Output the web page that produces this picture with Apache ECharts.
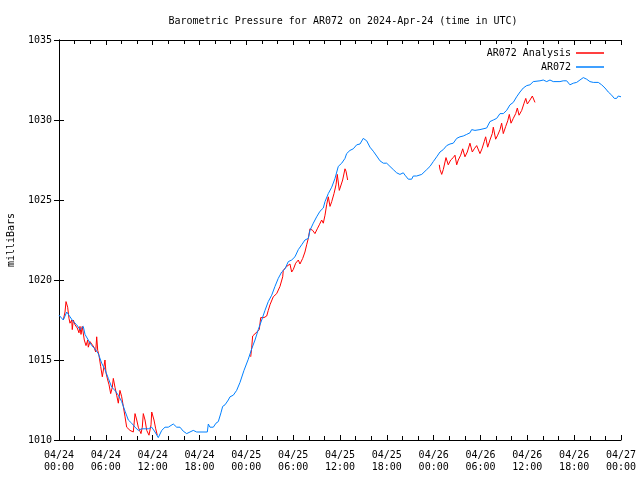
<!DOCTYPE html>
<html>
<head>
<meta charset="utf-8">
<script src="https://cdn.jsdelivr.net/npm/echarts@6/dist/echarts.min.js"></script>
<style>html,body{margin:0;padding:0;background:#fff;}#c{width:640px;height:480px;}</style>
</head>
<body>
<div id="c"></div>
<script>
// Observed station pressure (hours since 2024-04-24 00:00 UTC, mb)
const obsHours = [0,0.55,0.99,1.41,1.83,2.27,2.69,3.11,3.33,3.75,4.19,4.61,5.03,5.47,5.89,6.32,6.75,7.17,7.60,8.03,8.46,8.88,9.31,9.74,10.16,10.59,11.02,11.44,11.88,12.30,12.72,13.16,13.58,14.00,14.64,15.08,15.50,15.92,16.36,16.78,17.20,17.64,18.06,19.0,19.13,19.34,19.77,20.11,20.41,20.63,20.75,20.97,21.27,21.69,21.91,22.33,22.76,23.19,23.7,24.25,24.69,25.11,25.53,25.97,26.39,26.81,27.25,27.67,28.09,28.53,28.95,29.38,29.81,30.23,30.66,31.09,31.51,31.94,32.15,32.58,33.01,33.44,33.86,34.08,34.50,34.94,35.36,35.78,36.22,36.64,36.85,37.28,37.70,38.14,38.56,38.98,39.42,39.84,40.26,40.70,41.12,41.55,41.98,42.40,42.83,43.26,43.68,44.11,44.33,44.75,45.18,45.39,45.82,46.47,47.11,47.53,47.95,48.39,48.81,49.23,49.67,50.09,50.51,50.95,51.37,51.79,52.23,52.65,52.87,53.29,53.93,54.79,55.21,55.64,56.07,56.50,56.92,57.35,57.78,58.20,58.63,59.06,59.48,59.92,60.34,60.76,61.62,62.04,62.48,62.90,63.32,64.18,64.60,65.04,65.46,65.89,66.32,66.74,67.17,67.60,68.02,68.45,69.09,69.31,69.52,69.95,70.37,70.81,71.14,71.44,71.65,72.0];
const obsValues = [1017.8,1017.5,1018.0,1017.7,1017.4,1017.2,1016.9,1017.1,1016.6,1016.25,1015.9,1015.7,1015.4,1014.8,1014.4,1013.85,1013.3,1013.1,1012.8,1012.4,1011.8,1011.25,1011.05,1010.8,1010.6,1010.7,1010.7,1010.7,1010.8,1010.5,1010.15,1010.6,1010.8,1010.8,1011.0,1010.8,1010.8,1010.55,1010.4,1010.5,1010.6,1010.5,1010.5,1010.5,1011.0,1010.8,1010.8,1011.05,1011.15,1011.05,1011.7,1012.1,1012.2,1012.5,1012.7,1012.8,1013.1,1013.6,1014.35,1015.05,1015.7,1016.25,1016.9,1017.5,1018.1,1018.65,1019.05,1019.6,1020.1,1020.5,1020.7,1021.15,1021.25,1021.45,1021.9,1022.2,1022.5,1022.6,1023.1,1023.55,1023.95,1024.3,1024.5,1024.9,1025.4,1025.8,1026.35,1027.1,1027.3,1027.6,1027.9,1028.1,1028.2,1028.45,1028.5,1028.85,1028.7,1028.3,1028.05,1027.75,1027.45,1027.3,1027.3,1027.1,1026.9,1026.7,1026.6,1026.7,1026.55,1026.3,1026.3,1026.5,1026.5,1026.6,1026.9,1027.1,1027.4,1027.7,1028.0,1028.15,1028.4,1028.5,1028.55,1028.85,1028.95,1029.0,1029.1,1029.2,1029.4,1029.35,1029.4,1029.5,1029.9,1030.0,1030.1,1030.4,1030.4,1030.6,1030.95,1031.1,1031.45,1031.75,1032.0,1032.15,1032.2,1032.4,1032.45,1032.5,1032.4,1032.5,1032.4,1032.4,1032.45,1032.45,1032.2,1032.3,1032.35,1032.5,1032.65,1032.55,1032.4,1032.35,1032.35,1032.45,1032.2,1032.0,1031.75,1031.55,1031.35,1031.35,1031.5,1031.45];

// Analysis series (null = gap between analysis runs)
const anaHours = [0.55,0.77,0.90,1.11,1.28,1.41,1.63,1.70,1.83,2.05,2.34,2.56,2.69,2.82,2.98,3.24,3.46,3.68,3.75,3.97,4.19,4.48,4.70,4.83,4.96,5.12,5.34,5.55,5.76,5.89,6.02,6.24,6.41,6.62,6.83,6.96,7.17,7.39,7.60,7.81,8.03,8.24,8.46,8.67,9.10,9.52,9.74,9.96,10.16,10.50,10.67,10.80,11.02,11.24,11.53,11.79,11.88,12.17,12.39,12.59,
  18,
  24.56,24.69,24.81,25.24,25.46,25.66,25.84,26.26,26.61,26.81,27.03,27.45,27.89,28.31,28.66,28.73,29.17,29.59,29.81,30.01,30.32,30.66,30.87,31.22,31.51,31.73,31.94,32.15,32.50,32.79,33.09,33.35,33.65,33.86,34.08,34.29,34.50,34.72,34.94,35.23,35.49,35.65,35.91,36.13,36.34,36.64,36.77,36.98,
  42,
  48.72,48.81,49.03,49.23,49.58,49.87,50.18,50.51,50.73,50.95,51.15,51.46,51.72,52.01,52.31,52.65,52.95,53.20,53.51,53.72,53.93,54.19,54.48,54.66,54.92,55.21,55.51,55.64,55.94,56.20,56.50,56.71,56.92,57.23,57.49,57.69,57.91,58.20,58.51,58.72,58.94,59.28,59.58,59.80,60.00,60.34,60.64,60.76,60.98];
const anaValues = [1017.5,1018.0,1018.65,1018.3,1017.6,1017.3,1017.5,1016.9,1017.5,1017.2,1017.0,1016.7,1017.1,1016.6,1017.1,1016.25,1015.9,1016.25,1015.8,1016.15,1016.05,1015.8,1015.5,1016.45,1015.6,1015.3,1014.6,1013.95,1014.6,1015.0,1014.2,1013.75,1013.45,1012.9,1013.3,1013.85,1013.3,1012.8,1012.3,1013.1,1012.7,1012.1,1011.45,1010.8,1010.6,1010.5,1011.65,1011.25,1010.8,1010.4,1010.8,1011.65,1011.25,1010.6,1010.3,1010.95,1011.75,1011.25,1010.7,1010.3,
  null,
  1015.2,1015.8,1016.5,1016.7,1016.75,1016.9,1017.65,1017.65,1017.75,1018.1,1018.45,1018.95,1019.15,1019.6,1020.2,1020.6,1020.85,1021.0,1020.5,1020.65,1021.05,1021.25,1021.0,1021.35,1021.75,1022.2,1022.6,1023.2,1023.1,1022.9,1023.2,1023.45,1023.75,1023.55,1024.05,1024.7,1025.2,1024.6,1024.9,1025.4,1025.95,1026.6,1025.6,1025.7,1026.25,1026.95,1026.8,1026.25,
  null,
  1027.2,1026.9,1026.6,1026.9,1027.65,1027.2,1027.5,1027.65,1027.8,1027.2,1027.5,1027.8,1028.2,1027.7,1028.0,1028.55,1028.0,1028.2,1028.4,1028.5,1027.9,1028.2,1028.65,1028.95,1028.3,1028.75,1029.15,1029.55,1028.8,1029.05,1029.4,1029.8,1029.15,1029.6,1029.95,1030.35,1029.8,1030.1,1030.4,1030.75,1030.3,1030.6,1031.05,1031.35,1031.0,1031.25,1031.5,1031.6,1031.1];

const monthLabel = '04';
const startDay = 24;
const yTicks = [1010, 1015, 1020, 1025, 1030, 1035];

const FONT = 'DejaVu Sans Mono';
const chart = echarts.init(document.getElementById('c'), null, {renderer: 'canvas'});

function xLabel(v) {
  const day = startDay + Math.floor(v / 24);
  const hr = Math.round(v % 24);
  return monthLabel + '/' + day + '\n' + String(hr).padStart(2, '0') + ':00';
}

const baseX = {
  type: 'value', min: 0, max: 72, interval: 6,
  axisLine: {show: true, lineStyle: {color: '#000', width: 1}},
  axisTick: {show: true, inside: true, length: 5, lineStyle: {color: '#000'}},
  minorTick: {show: true, splitNumber: 3, length: 4, lineStyle: {color: '#000'}},
  splitLine: {show: false}
};
const baseY = {
  type: 'value', min: yTicks[0], max: yTicks[yTicks.length - 1], interval: 5,
  axisLine: {show: true, lineStyle: {color: '#000', width: 1}},
  axisTick: {show: true, inside: true, length: 5, lineStyle: {color: '#000'}},
  splitLine: {show: false}
};

chart.setOption({
  animation: false,
  backgroundColor: '#fff',
  title: {
    text: 'Barometric Pressure for AR072 on 2024-Apr-24 (time in UTC)',
    left: 338, top: 11, textAlign: 'center',
    textStyle: {fontFamily: FONT, fontSize: 10, fontWeight: 'normal', color: '#000'}
  },
  legend: [
    {data: ['AR072 Analysis'], right: 31, top: 43, align: 'right', icon: 'rect', itemWidth: 28, itemHeight: 1.5,
     textStyle: {fontFamily: FONT, fontSize: 10, color: '#000'}},
    {data: ['AR072'], right: 31, top: 57, align: 'right', icon: 'rect', itemWidth: 28, itemHeight: 1.5,
     textStyle: {fontFamily: FONT, fontSize: 10, color: '#000'}}
  ],
  grid: {left: 59, right: 19, top: 40, bottom: 40, containLabel: false, outerBoundsMode: 'none'},
  xAxis: [
    Object.assign({}, baseX, {position: 'bottom',
      axisLabel: {formatter: xLabel, fontFamily: FONT, fontSize: 10, color: '#000', lineHeight: 12, margin: 9, showMinLabel: true, showMaxLabel: true}}),
    Object.assign({}, baseX, {position: 'top', axisLabel: {show: false}})
  ],
  yAxis: [
    Object.assign({}, baseY, {position: 'left', name: 'milliBars', nameLocation: 'middle', nameGap: 43, nameRotate: 90,
      nameTextStyle: {fontFamily: FONT, fontSize: 10, color: '#000'},
      axisLabel: {formatter: v => String(v), fontFamily: FONT, fontSize: 10, color: '#000', margin: 7}}),
    Object.assign({}, baseY, {position: 'right', axisLabel: {show: false}})
  ],
  series: [
    {name: 'AR072 Analysis', type: 'line', xAxisIndex: 0, yAxisIndex: 0, showSymbol: false, connectNulls: false,
     itemStyle: {color: '#ff0000'}, lineStyle: {color: '#ff0000', width: 1},
     data: anaHours.map((h, i) => [h, anaValues[i] === null ? '-' : anaValues[i]])},
    {name: 'AR072', type: 'line', xAxisIndex: 0, yAxisIndex: 0, showSymbol: false,
     itemStyle: {color: '#0080ff'}, lineStyle: {color: '#0080ff', width: 1},
     data: obsHours.map((h, i) => [h, obsValues[i]])}
  ]
});
</script>
</body>
</html>
